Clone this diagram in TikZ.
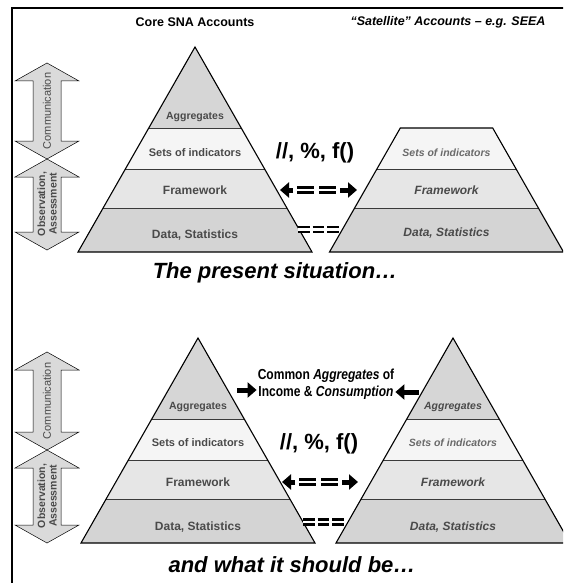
\documentclass[tikz,border=0pt]{standalone}
\usepackage{fontspec}
\setmainfont{Liberation Sans}
\newfontfamily\narrowfont[FakeStretch=0.83]{Liberation Sans}
\usetikzlibrary{arrows.meta}
\definecolor{aggFill}{HTML}{D6D6D6}
\definecolor{setFill}{HTML}{F5F5F5}
\definecolor{frameFill}{HTML}{E6E6E6}
\definecolor{dataFill}{HTML}{D4D4D4}
\definecolor{arrowFill}{HTML}{DADADA}
\definecolor{bandLine}{HTML}{3A3A3A}
\definecolor{labelGray}{HTML}{4A4A4A}
\definecolor{softLabel}{HTML}{6A6A6A}

\begin{document}
\begin{tikzpicture}[x=1pt, y=-1pt,
        band/.style={draw=bandLine, line width=0.7pt},
        outline/.style={draw=black, line width=1.1pt},
        layer/.style={text=labelGray, font=\bfseries\fontsize{12}{14}\selectfont},
        smalllayer/.style={text=labelGray, font=\bfseries\fontsize{11}{13}\selectfont},
        satlayer/.style={text=labelGray, font=\bfseries\itshape\fontsize{12}{14}\selectfont},
        satsmall/.style={text=softLabel, font=\bfseries\itshape\fontsize{10.5}{12}\selectfont},
        header/.style={font=\bfseries\fontsize{12.5}{14}\selectfont},
        caption/.style={font=\bfseries\itshape\fontsize{22}{26}\selectfont},
        ops/.style={font=\bfseries\fontsize{22}{26}\selectfont},
        sidearrow/.style={fill=arrowFill, draw=black, line width=0.5pt},
        sidetext/.style={text=labelGray, rotate=90, align=center},
        headarrow/.style={line width=5pt, -{Triangle[length=9pt, width=15pt]}},
        eqlink/.style={line width=2.4pt, double=white, double distance=2.6pt, dash pattern=on 17pt off 5pt},
        eqbars/.style={line width=2.4pt, double=white, double distance=2.4pt, dash pattern=on 11.5pt off 3pt}
      ]
        \clip (0,0) rectangle (563,583);
        \useasboundingbox (0,0) rectangle (563,583);
        % frame
        \draw[line width=1.5pt] (12,600) -- (12,8) -- (580,8);

        % headings
        \node[header] (core) at (195,22) {Core SNA Accounts};
        \node[header, font=\bfseries\itshape\fontsize{12.5}{14}\selectfont] (sat) at (448,22) {“Satellite” Accounts – e.g. SEEA};

        % side arrows
        \foreach \ya/\yb in {63/159, 159/250, 352/450, 450/543} {
          \draw[sidearrow] (47,\ya) -- (79,\ya+18) -- (61,\ya+18) -- (61,\yb-18) -- (79,\yb-18)
            -- (47,\yb) -- (15,\yb-18) -- (33,\yb-18) -- (33,\ya+18) -- (15,\ya+18) -- cycle;
        }
        \node[sidetext, font=\fontsize{11}{12}\selectfont] (comm1) at (47,111) {Communication};
        \node[sidetext, font=\bfseries\fontsize{10.5}{11.5}\selectfont] (obs1) at (47,204) {Observation,\\Assessment};
        \node[sidetext, font=\fontsize{11}{12}\selectfont] (comm2) at (47,401) {Communication};
        \node[sidetext, font=\bfseries\fontsize{10.5}{11.5}\selectfont] (obs2) at (47,496) {Observation,\\Assessment};

        % present: core pyramid
        \begin{scope}[shift={(195,47)}]
          \fill[aggFill] (0,0) -- (46.2,81) -- (-46.2,81) -- cycle;
          \fill[setFill] (-46.2,81) -- (46.2,81) -- (69.6,122) -- (-69.6,122) -- cycle;
          \fill[frameFill] (-69.6,122) -- (69.6,122) -- (91.9,161) -- (-91.9,161) -- cycle;
          \fill[dataFill] (-91.9,161) -- (91.9,161) -- (117,205) -- (-117,205) -- cycle;
          \draw[band] (-46.2,81) -- (46.2,81) (-69.6,122) -- (69.6,122) (-91.9,161) -- (91.9,161);
          \draw[outline] (0,0) -- (117,205) -- (-117,205) -- cycle;
          \node[layer, font=\bfseries\fontsize{10.5}{12}\selectfont] (aggA) at (0,70) {Aggregates};
          \node[smalllayer] (setA) at (0,106) {Sets of indicators};
          \node[layer] (frmA) at (0,143) {Framework};
          \node[layer] (datA) at (0,188) {Data, Statistics};
        \end{scope}

        % present: satellite
        \begin{scope}[shift={(446.5,47)}]
          \fill[setFill] (-46.2,81) -- (46.2,81) -- (69.6,122) -- (-69.6,122) -- cycle;
          \fill[frameFill] (-69.6,122) -- (69.6,122) -- (91.9,161) -- (-91.9,161) -- cycle;
          \fill[dataFill] (-91.9,161) -- (91.9,161) -- (117,205) -- (-117,205) -- cycle;
          \draw[band] (-69.6,122) -- (69.6,122) (-91.9,161) -- (91.9,161);
          \draw[outline] (-46.2,81) -- (46.2,81) -- (117,205) -- (-117,205) -- cycle;
          \node[satsmall] (setB) at (0,106) {Sets of indicators};
          \node[satlayer] (frmB) at (0,143) {Framework};
          \node[satlayer] (datB) at (0,186) {Data, Statistics};
        \end{scope}

        \node[ops] (opsA) at (315,153) {//, \%, f()};
        \coordinate (linkAL) at (280,190);
        \coordinate (linkAR) at (357,190);
        \draw[eqlink] (297,190) -- (336,190);
        \draw[headarrow] (293,190) -- (linkAL);
        \draw[headarrow] (340,190) -- (linkAR);
        \draw[eqbars] (298,229.5) -- (339,229.5);
        \node[caption] (present) at (275,273) {The present situation…};

        % target: core pyramid
        \begin{scope}[shift={(198,338)}]
          \fill[aggFill] (0,0) -- (46.2,81) -- (-46.2,81) -- cycle;
          \fill[setFill] (-46.2,81) -- (46.2,81) -- (69.6,122) -- (-69.6,122) -- cycle;
          \fill[frameFill] (-69.6,122) -- (69.6,122) -- (91.9,161) -- (-91.9,161) -- cycle;
          \fill[dataFill] (-91.9,161) -- (91.9,161) -- (117,205) -- (-117,205) -- cycle;
          \draw[band] (-46.2,81) -- (46.2,81) (-69.6,122) -- (69.6,122) (-91.9,161) -- (91.9,161);
          \draw[outline] (0,0) -- (117,205) -- (-117,205) -- cycle;
          \node[layer, font=\bfseries\fontsize{10.5}{12}\selectfont] (aggC) at (0,69) {Aggregates};
          \node[smalllayer] (setC) at (0,105) {Sets of indicators};
          \node[layer] (frmC) at (0,144) {Framework};
          \node[layer] (datC) at (0,189) {Data, Statistics};
        \end{scope}

        % target: satellite pyramid
        \begin{scope}[shift={(453,338)}]
          \fill[aggFill] (0,0) -- (46.2,81) -- (-46.2,81) -- cycle;
          \fill[setFill] (-46.2,81) -- (46.2,81) -- (69.6,122) -- (-69.6,122) -- cycle;
          \fill[frameFill] (-69.6,122) -- (69.6,122) -- (91.9,161) -- (-91.9,161) -- cycle;
          \fill[dataFill] (-91.9,161) -- (91.9,161) -- (117,205) -- (-117,205) -- cycle;
          \draw[band] (-46.2,81) -- (46.2,81) (-69.6,122) -- (69.6,122) (-91.9,161) -- (91.9,161);
          \draw[outline] (0,0) -- (117,205) -- (-117,205) -- cycle;
          \node[satlayer, font=\bfseries\itshape\fontsize{10.5}{12}\selectfont] (aggD) at (0,69) {Aggregates};
          \node[satsmall] (setD) at (0,105) {Sets of indicators};
          \node[satlayer] (frmD) at (0,144) {Framework};
          \node[satlayer] (datD) at (0,189) {Data, Statistics};
        \end{scope}

        \node[font=\narrowfont\bfseries\fontsize{14.5}{17.5}\selectfont, align=center, inner sep=1pt] (common) at (326,384)
          {Common \textit{Aggregates} of\\Income \& \textit{Consumption}};
        \coordinate (aggCL) at (237,390);
        \coordinate (aggDR) at (419,392);
        \draw[headarrow] (aggCL) -- (common.west |- aggCL);
        \draw[headarrow] (aggDR) -- (common.east |- aggDR);

        \node[ops] (opsB) at (319,444) {//, \%, f()};
        \coordinate (linkBL) at (282,482);
        \coordinate (linkBR) at (358,482);
        \draw[eqlink] (299,482) -- (338,482);
        \draw[headarrow] (295,482) -- (linkBL);
        \draw[headarrow] (342,482) -- (linkBR);
        \draw[eqbars] (303,522) -- (344,522);
        \node[caption] (target) at (292,565) {and what it should be…};
      \end{tikzpicture}
\end{document}
